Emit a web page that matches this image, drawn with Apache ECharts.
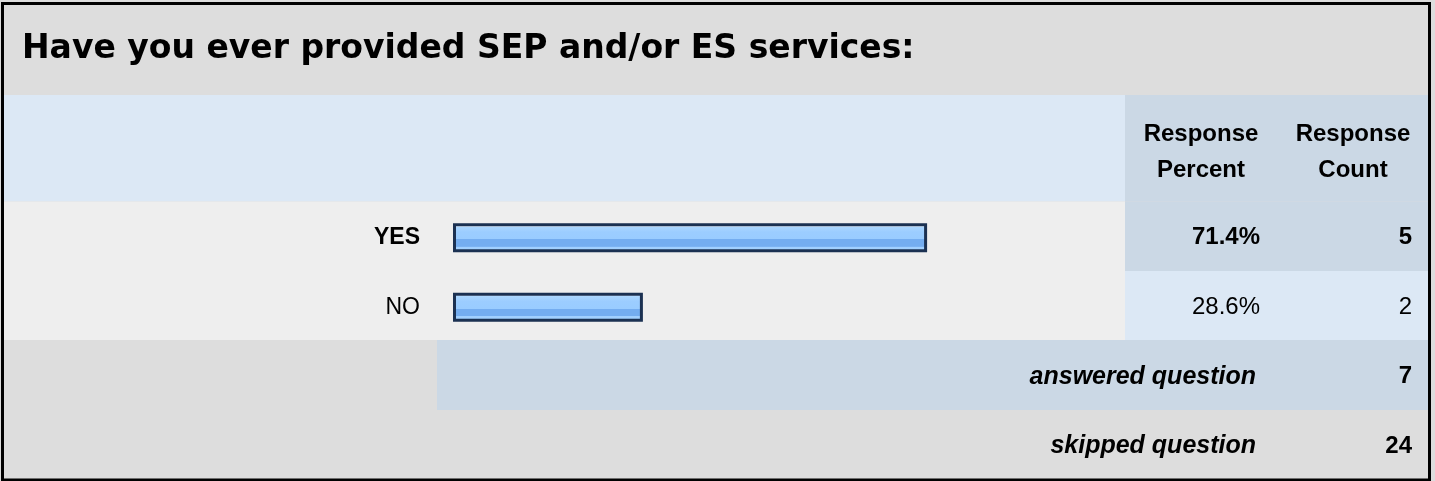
<!DOCTYPE html>
<html>
<head>
<meta charset="utf-8">
<script src="https://cdn.jsdelivr.net/npm/echarts@6/dist/echarts.min.js"></script>
<style>
  html, body { margin: 0; padding: 0; background: #fff; }
  #main { width: 1435px; height: 481px; }
</style>
</head>
<body>
<div id="main"></div>
<script>
// data
var titleText = 'Have you ever provided SEP and/or ES services:';
var answers = ['YES', 'NO'];
var percents = [71.4, 28.6];
var counts = [5, 2];
var footerLabels = ['answered question', 'skipped question'];
var footerCounts = [7, 24];
var headerCols = ['Response\nPercent', 'Response\nCount'];

var FONT = 'Arial, "Liberation Sans", sans-serif';
var rows = answers.concat(footerLabels);

// bars only for the answer rows
var barData = percents.map(function (v) { return v; });
footerLabels.forEach(function () { barData.push('-'); });

function bg(x, y, w, h, fill) {
  return { type: 'rect', z: -10, silent: true, shape: { x: x, y: y, width: w, height: h }, style: { fill: fill } };
}

var chart = echarts.init(document.getElementById('main'));
var option = {
  backgroundColor: '#dddddd',
  animation: false,
  grid: { left: 453, right: 318, top: 203, height: 280 },
  xAxis: { type: 'value', min: 0, max: 100, show: false },
  yAxis: [{
    type: 'category',
    data: rows,
    inverse: true,
    z: 5,
    axisLine: { show: false },
    axisTick: { show: false },
    splitLine: { show: false },
    axisLabel: {
      margin: 33,
      fontFamily: FONT,
      fontSize: 24,
      color: '#000',
      formatter: function (v, i) {
        if (i >= answers.length) return '';
        // top answer is bold
        return i === 0 ? '{b|' + v + '}' : '{n|' + v + '}';
      },
      rich: {
        b: { fontFamily: FONT, fontSize: 23, fontWeight: 'bold', color: '#000' },
        n: { fontFamily: FONT, fontSize: 23, color: '#000' }
      }
    }
  }, {
    type: 'category',
    data: rows,
    inverse: true,
    position: 'right',
    z: 5,
    axisLine: { show: false },
    axisTick: { show: false },
    splitLine: { show: false },
    axisLabel: {
      margin: 295,
      align: 'right',
      fontFamily: FONT,
      fontSize: 24,
      color: '#000',
      formatter: function (v, i) {
        if (i < answers.length) {
          var s = i === 0 ? 'b' : 'n';
          return '{p' + s + '|' + percents[i].toFixed(1) + '%}{c' + s + '|' + counts[i] + '}';
        }
        var k = i - answers.length;
        return '{q|' + footerLabels[k] + '}{cf|' + footerCounts[k] + '}';
      },
      rich: {
        pb: { fontFamily: FONT, fontSize: 24, fontWeight: 'bold', color: '#000' },
        cb: { fontFamily: FONT, fontSize: 24, fontWeight: 'bold', color: '#000', width: 152, align: 'right' },
        pn: { fontFamily: FONT, fontSize: 24, color: '#000' },
        cn: { fontFamily: FONT, fontSize: 24, color: '#000', width: 152, align: 'right' },
        q: { fontFamily: FONT, fontSize: 25, fontWeight: 'bold', fontStyle: 'italic', color: '#000' },
        cf: { fontFamily: FONT, fontSize: 24, fontWeight: 'bold', color: '#000', width: 156, align: 'right' }
      }
    }
  }],
  series: [{
    type: 'bar',
    z: 5,
    silent: true,
    barWidth: 29,
    data: barData,
    itemStyle: {
      borderColor: '#1b3152',
      borderWidth: 3,
      color: new echarts.graphic.LinearGradient(0, 0, 0, 1, [
        { offset: 0, color: '#d8ebff' },
        { offset: 0.12, color: '#d8ebff' },
        { offset: 0.13, color: '#aad6ff' },
        { offset: 0.3, color: '#9ccdff' },
        { offset: 0.55, color: '#99ccff' },
        { offset: 0.56, color: '#74adf0' },
        { offset: 0.8, color: '#74adf0' },
        { offset: 0.81, color: '#a0cfff' },
        { offset: 1, color: '#a6d3ff' }
      ])
    }
  }],
  graphic: [
    bg(4, 95, 1121, 106.5, '#dce8f5'),
    bg(1125, 95, 303, 106.5, '#cbd8e5'),
    bg(4, 201.5, 1121, 138.5, '#eeeeee'),
    bg(1125, 201.5, 303, 69.5, '#cbd8e5'),
    bg(1125, 271, 303, 69, '#dce8f5'),
    bg(437, 340, 991, 70, '#cbd8e5'),
    {
      type: 'rect', z: 20, silent: true,
      shape: { x: 2.5, y: 3.5, width: 1427, height: 476.5 },
      style: { fill: 'none', stroke: '#000', lineWidth: 3 }
    },
    {
      type: 'text', z: 20, left: 22, top: 33,
      style: { text: titleText, font: 'bold 33px "DejaVu Sans", sans-serif', fill: '#000' }
    },
    {
      type: 'text', z: 20, x: 1201, y: 152,
      style: { text: headerCols[0], font: 'bold 24px ' + FONT, lineHeight: 36, align: 'center', verticalAlign: 'middle', fill: '#000' }
    },
    {
      type: 'text', z: 20, x: 1353, y: 152,
      style: { text: headerCols[1], font: 'bold 24px ' + FONT, lineHeight: 36, align: 'center', verticalAlign: 'middle', fill: '#000' }
    }
  ]
};
chart.setOption(option);
</script>
</body>
</html>
